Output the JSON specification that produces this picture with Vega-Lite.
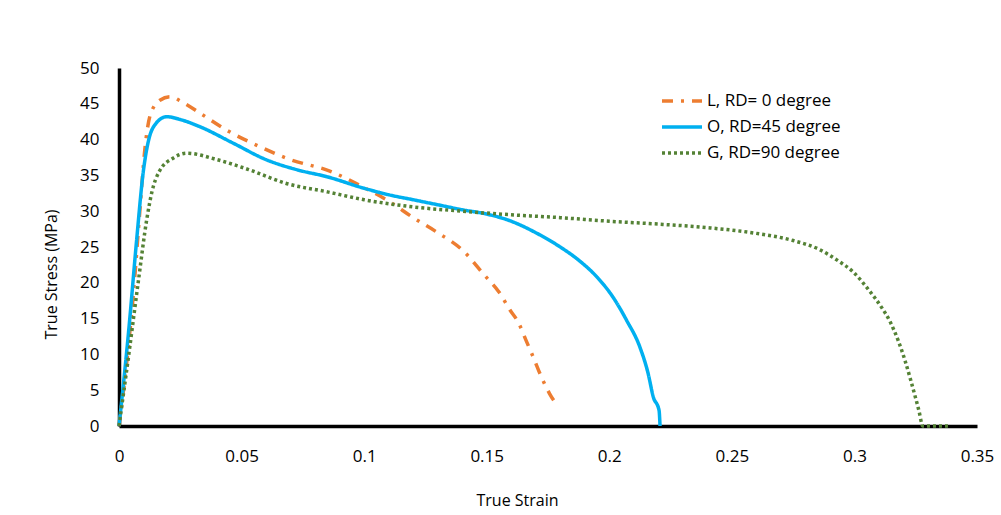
{
  "$schema": "https://vega.github.io/schema/vega-lite/v6.json",
  "width": 858,
  "height": 358,
  "autosize": {"type": "none"},
  "padding": {"left": 119, "top": 68, "right": 24, "bottom": 89},
  "background": "white",
  "config": {
    "view": {"stroke": null},
    "font": "Open Sans",
    "axis": {"grid": false, "ticks": false, "labelFlush": false, "domainColor": "black", "domainWidth": 3.5, "labelColor": "#000", "titleColor": "#000", "labelFontSize": 17, "titleFontSize": 16, "titleFontWeight": "normal"}
  },
  "data": {"values": [
    {"s": "L, RD= 0 degree", "x": 0, "y": 0},
    {"s": "L, RD= 0 degree", "x": 0.0035, "y": 10},
    {"s": "L, RD= 0 degree", "x": 0.006, "y": 19},
    {"s": "L, RD= 0 degree", "x": 0.0085, "y": 30},
    {"s": "L, RD= 0 degree", "x": 0.0105, "y": 38.5},
    {"s": "L, RD= 0 degree", "x": 0.0128, "y": 43.5},
    {"s": "L, RD= 0 degree", "x": 0.0167, "y": 45.5},
    {"s": "L, RD= 0 degree", "x": 0.0208, "y": 46},
    {"s": "L, RD= 0 degree", "x": 0.026, "y": 45.2},
    {"s": "L, RD= 0 degree", "x": 0.033, "y": 43.7},
    {"s": "L, RD= 0 degree", "x": 0.044, "y": 41.3},
    {"s": "L, RD= 0 degree", "x": 0.0575, "y": 39},
    {"s": "L, RD= 0 degree", "x": 0.07, "y": 37.2},
    {"s": "L, RD= 0 degree", "x": 0.086, "y": 35.6},
    {"s": "L, RD= 0 degree", "x": 0.1, "y": 33.3},
    {"s": "L, RD= 0 degree", "x": 0.11, "y": 31.4},
    {"s": "L, RD= 0 degree", "x": 0.12, "y": 29.1},
    {"s": "L, RD= 0 degree", "x": 0.13, "y": 27},
    {"s": "L, RD= 0 degree", "x": 0.14, "y": 24.6},
    {"s": "L, RD= 0 degree", "x": 0.149, "y": 21.1},
    {"s": "L, RD= 0 degree", "x": 0.155, "y": 18.7},
    {"s": "L, RD= 0 degree", "x": 0.1595, "y": 16.2},
    {"s": "L, RD= 0 degree", "x": 0.163, "y": 14.4},
    {"s": "L, RD= 0 degree", "x": 0.166, "y": 12},
    {"s": "L, RD= 0 degree", "x": 0.169, "y": 9.6},
    {"s": "L, RD= 0 degree", "x": 0.1725, "y": 6.7},
    {"s": "L, RD= 0 degree", "x": 0.1755, "y": 4.6},
    {"s": "L, RD= 0 degree", "x": 0.1787, "y": 2.9},
    {"s": "O, RD=45 degree", "x": 0, "y": 0},
    {"s": "O, RD=45 degree", "x": 0.002, "y": 6.5},
    {"s": "O, RD=45 degree", "x": 0.004, "y": 13.5},
    {"s": "O, RD=45 degree", "x": 0.0072, "y": 26},
    {"s": "O, RD=45 degree", "x": 0.0099, "y": 35.5},
    {"s": "O, RD=45 degree", "x": 0.012, "y": 39.8},
    {"s": "O, RD=45 degree", "x": 0.0145, "y": 42},
    {"s": "O, RD=45 degree", "x": 0.0195, "y": 43.2},
    {"s": "O, RD=45 degree", "x": 0.025, "y": 42.8},
    {"s": "O, RD=45 degree", "x": 0.033, "y": 41.8},
    {"s": "O, RD=45 degree", "x": 0.0466, "y": 39.5},
    {"s": "O, RD=45 degree", "x": 0.06, "y": 37.2},
    {"s": "O, RD=45 degree", "x": 0.0725, "y": 35.8},
    {"s": "O, RD=45 degree", "x": 0.085, "y": 34.8},
    {"s": "O, RD=45 degree", "x": 0.1, "y": 33.2},
    {"s": "O, RD=45 degree", "x": 0.11, "y": 32.3},
    {"s": "O, RD=45 degree", "x": 0.12, "y": 31.6},
    {"s": "O, RD=45 degree", "x": 0.13, "y": 30.9},
    {"s": "O, RD=45 degree", "x": 0.14, "y": 30.2},
    {"s": "O, RD=45 degree", "x": 0.15, "y": 29.6},
    {"s": "O, RD=45 degree", "x": 0.16, "y": 28.6},
    {"s": "O, RD=45 degree", "x": 0.17, "y": 27},
    {"s": "O, RD=45 degree", "x": 0.18, "y": 25},
    {"s": "O, RD=45 degree", "x": 0.187, "y": 23.3},
    {"s": "O, RD=45 degree", "x": 0.195, "y": 20.8},
    {"s": "O, RD=45 degree", "x": 0.2015, "y": 18},
    {"s": "O, RD=45 degree", "x": 0.207, "y": 14.8},
    {"s": "O, RD=45 degree", "x": 0.2125, "y": 11},
    {"s": "O, RD=45 degree", "x": 0.2158, "y": 7.4},
    {"s": "O, RD=45 degree", "x": 0.218, "y": 4},
    {"s": "O, RD=45 degree", "x": 0.2203, "y": 2.2},
    {"s": "O, RD=45 degree", "x": 0.2207, "y": 0},
    {"s": "G, RD=90 degree", "x": 0, "y": 0},
    {"s": "G, RD=90 degree", "x": 0.004, "y": 10},
    {"s": "G, RD=90 degree", "x": 0.008, "y": 20.5},
    {"s": "G, RD=90 degree", "x": 0.0113, "y": 28.8},
    {"s": "G, RD=90 degree", "x": 0.0135, "y": 32.8},
    {"s": "G, RD=90 degree", "x": 0.0165, "y": 35.6},
    {"s": "G, RD=90 degree", "x": 0.022, "y": 37.4},
    {"s": "G, RD=90 degree", "x": 0.0276, "y": 38.1},
    {"s": "G, RD=90 degree", "x": 0.04, "y": 37.2},
    {"s": "G, RD=90 degree", "x": 0.053, "y": 35.8},
    {"s": "G, RD=90 degree", "x": 0.068, "y": 33.9},
    {"s": "G, RD=90 degree", "x": 0.085, "y": 32.7},
    {"s": "G, RD=90 degree", "x": 0.1, "y": 31.6},
    {"s": "G, RD=90 degree", "x": 0.12, "y": 30.6},
    {"s": "G, RD=90 degree", "x": 0.14, "y": 30},
    {"s": "G, RD=90 degree", "x": 0.16, "y": 29.5},
    {"s": "G, RD=90 degree", "x": 0.18, "y": 29.1},
    {"s": "G, RD=90 degree", "x": 0.2, "y": 28.6},
    {"s": "G, RD=90 degree", "x": 0.22, "y": 28.2},
    {"s": "G, RD=90 degree", "x": 0.24, "y": 27.7},
    {"s": "G, RD=90 degree", "x": 0.26, "y": 26.9},
    {"s": "G, RD=90 degree", "x": 0.275, "y": 25.9},
    {"s": "G, RD=90 degree", "x": 0.286, "y": 24.6},
    {"s": "G, RD=90 degree", "x": 0.2928, "y": 23.2},
    {"s": "G, RD=90 degree", "x": 0.2995, "y": 21.5},
    {"s": "G, RD=90 degree", "x": 0.3063, "y": 18.8},
    {"s": "G, RD=90 degree", "x": 0.311, "y": 16.6},
    {"s": "G, RD=90 degree", "x": 0.3145, "y": 14.6},
    {"s": "G, RD=90 degree", "x": 0.318, "y": 11.8},
    {"s": "G, RD=90 degree", "x": 0.3205, "y": 9.3},
    {"s": "G, RD=90 degree", "x": 0.3228, "y": 6.6},
    {"s": "G, RD=90 degree", "x": 0.3248, "y": 4.1},
    {"s": "G, RD=90 degree", "x": 0.3264, "y": 2},
    {"s": "G, RD=90 degree", "x": 0.3274, "y": 0.4},
    {"s": "G, RD=90 degree", "x": 0.3278, "y": 0},
    {"s": "G, RD=90 degree", "x": 0.3385, "y": 0}
  ]},
  "mark": {"type": "line", "strokeWidth": 3.5, "strokeCap": "butt", "strokeJoin": "round", "interpolate": "monotone"},
  "encoding": {
    "x": {"field": "x", "type": "quantitative", "scale": {"domain": [0, 0.35], "nice": false},
      "axis": {"values": [0, 0.05, 0.1, 0.15, 0.2, 0.25, 0.3, 0.35], "format": "~g", "labelPadding": 22, "title": "True Strain", "titleX": 398, "titleY": 79, "titleBaseline": "alphabetic"}},
    "y": {"field": "y", "type": "quantitative", "scale": {"domain": [0, 50], "nice": false},
      "axis": {"values": [0, 5, 10, 15, 20, 25, 30, 35, 40, 45, 50], "labelPadding": 20, "title": "True Stress (MPa)", "titleX": -60, "titleY": 206}},
    "color": {"field": "s", "type": "nominal", "sort": null,
      "scale": {"domain": ["L, RD= 0 degree", "O, RD=45 degree", "G, RD=90 degree"], "range": ["#ED7D31", "#00B0F0", "#548235"]},
      "legend": {"title": null, "orient": "none", "legendX": 545, "legendY": 15, "symbolType": "M-1.25,0H1.25", "symbolSize": 1024, "symbolStrokeWidth": 3.5, "labelFontSize": 17, "labelOffset": 7, "rowPadding": 0, "padding": 0, "labelColor": "#000"}},
    "strokeDash": {"field": "s", "type": "nominal", "sort": null,
      "scale": {"domain": ["L, RD= 0 degree", "O, RD=45 degree", "G, RD=90 degree"], "range": [[11, 8, 3, 8], [1, 0], [3, 3]]},
      "legend": null},
    "order": {"field": "x", "type": "quantitative"}
  }
}
